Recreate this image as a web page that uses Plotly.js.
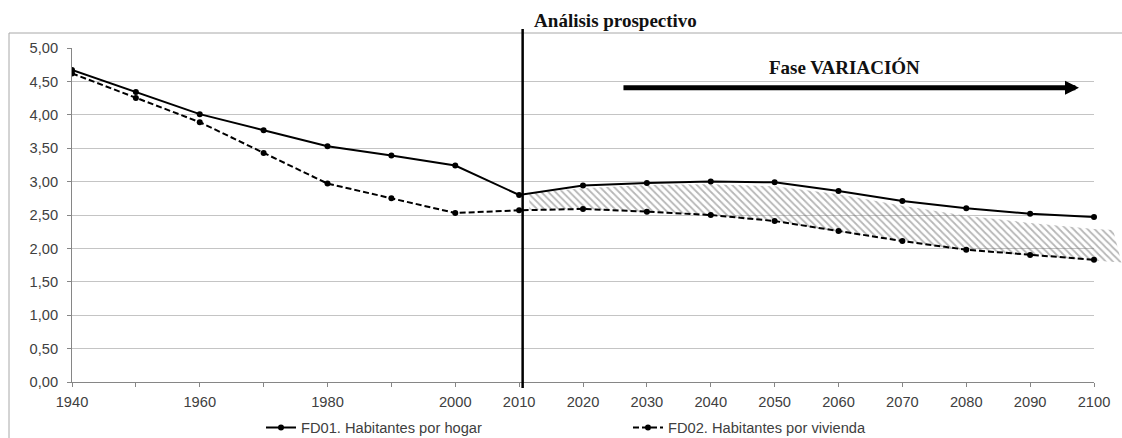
<!DOCTYPE html>
<html>
<head>
<meta charset="utf-8">
<script src="https://cdn.plot.ly/plotly-3.0.1.min.js"></script>
<style>html,body{margin:0;padding:0;background:#fff;}#chart{width:1122px;height:438px;}</style>
</head>
<body>
<div id="chart"></div>
<script>
// ---- data ----
const years = [1940, 1950, 1960, 1970, 1980, 1990, 2000, 2010, 2020, 2030, 2040, 2050, 2060, 2070, 2080, 2090, 2100];
const fd01 = [4.67, 4.34, 4.01, 3.77, 3.53, 3.39, 3.24, 2.80, 2.94, 2.98, 3.00, 2.99, 2.86, 2.71, 2.60, 2.52, 2.47];
const fd02 = [4.62, 4.25, 3.89, 3.43, 2.97, 2.75, 2.53, 2.57, 2.59, 2.55, 2.50, 2.41, 2.26, 2.11, 1.98, 1.90, 1.83];
const tickLabels = ['1940', '', '1960', '', '1980', '', '2000', '2010', '2020', '2030', '2040', '2050', '2060', '2070', '2080', '2090', '2100'];
const seriesNames = ['FD01. Habitantes por hogar', 'FD02. Habitantes por vivienda'];
// hatched variation band (polygon outline)
const bandYears = [2011.6, 2020, 2030, 2040, 2050, 2060, 2070, 2080, 2090, 2100, 2103.0, 2104.3, 2100, 2090, 2080, 2070, 2060, 2050, 2040, 2030, 2020, 2011.6];
const bandValues = [2.83, 2.90, 2.95, 2.96, 2.93, 2.81, 2.64, 2.49, 2.38, 2.29, 2.275, 1.79, 1.82, 1.89, 1.97, 2.10, 2.25, 2.40, 2.50, 2.55, 2.59, 2.58];
const dividerYear = 2010.55;
const titleText = 'Análisis prospectivo';
const phaseText = 'Fase VARIACIÓN';

// ---- geometry ----
const W = 1122, H = 438;
const mL = 72, mR = 0, mT = 48, mB = 56;
const plotW = W - mL - mR;           // 1050
const plotH = H - mT - mB;           // 334
const mainPx = 1022;                 // width of the 1940-2100 axis
const xMin = 1940, xMax = 2100;
const domainEnd = mainPx / plotW;
const x2Max = xMin + (xMax - xMin) * plotW / mainPx;
const px = v => (v - mL) / plotW;     // pixel -> paper x
const py = v => (H - mB - v) / plotH; // pixel -> paper y

const serif = 'Liberation Serif, Times New Roman, serif';
const sans = 'Liberation Sans, Arial, sans-serif';
const txtCol = '#404040';

const traces = [
  {x: [], y: [], xaxis: 'x', yaxis: 'y', showlegend: false, hoverinfo: 'skip', mode: 'lines'},
  {
    x: bandYears, y: bandValues, xaxis: 'x2', yaxis: 'y2',
    mode: 'lines', line: {width: 0, color: 'rgba(0,0,0,0)'},
    fill: 'toself', fillcolor: 'rgba(0,0,0,0)',
    fillpattern: {shape: '\\', fgcolor: '#6e6e6e', bgcolor: 'rgba(255,255,255,0)', size: 5, solidity: 0.35, fillmode: 'overlay'},
    showlegend: false, hoverinfo: 'skip'
  },
  {
    x: years, y: fd01, name: seriesNames[0], xaxis: 'x2', yaxis: 'y2',
    mode: 'lines+markers', line: {color: '#000', width: 2},
    marker: {color: '#000', size: 6, symbol: 'circle'},
    legend: 'legend'
  },
  {
    x: years, y: fd02, name: seriesNames[1], xaxis: 'x2', yaxis: 'y2',
    mode: 'lines+markers', line: {color: '#000', width: 2, dash: '6px,3px'},
    marker: {color: '#000', size: 6, symbol: 'circle'},
    legend: 'legend2'
  }
];

const legendCommon = {
  xanchor: 'left', yanchor: 'middle',
  y: py(428),
  bgcolor: 'rgba(0,0,0,0)', borderwidth: 0,
  font: {family: sans, size: 14.67, color: txtCol}
};

const layout = {
  width: W, height: H,
  margin: {l: mL, r: mR, t: mT, b: mB, pad: 0, autoexpand: false},
  paper_bgcolor: '#fff', plot_bgcolor: 'rgba(0,0,0,0)',
  separators: ',.',
  font: {family: sans, size: 14.67, color: txtCol},
  title: {
    text: titleText, x: 615.5 / W, xanchor: 'center', xref: 'container',
    y: 1 - 20 / H, yanchor: 'middle', yref: 'container',
    font: {family: serif, size: 19, color: '#111', weight: 'bold'}
  },
  xaxis: {
    domain: [0, domainEnd], anchor: 'y', range: [xMin, xMax],
    tickmode: 'array', tickvals: years, ticktext: tickLabels,
    showgrid: false, zeroline: false,
    showline: true, linecolor: '#868686', linewidth: 1,
    ticks: 'outside', ticklen: 4, tickcolor: '#868686', tickwidth: 1,
    ticklabelstandoff: 2,
    tickfont: {family: sans, size: 14.67, color: txtCol}
  },
  yaxis: {
    domain: [0, 1], anchor: 'x', range: [0, 5], dtick: 0.5, tick0: 0,
    tickformat: '.2f',
    showgrid: true, gridcolor: '#c4c4c4', gridwidth: 1, zeroline: false,
    showline: true, linecolor: '#868686', linewidth: 1,
    ticks: 'outside', ticklen: 4, tickcolor: '#868686',
    ticklabelstandoff: 6,
    tickfont: {family: sans, size: 14.67, color: txtCol}
  },
  xaxis2: {domain: [0, 1], anchor: 'y2', range: [xMin, x2Max], visible: false, fixedrange: true},
  yaxis2: {domain: [0, 1], anchor: 'x2', range: [0, 5], visible: false, fixedrange: true},
  legend: Object.assign({}, legendCommon, {x: px(261)}),
  legend2: Object.assign({}, legendCommon, {x: px(628)}),
  shapes: [
    {type: 'rect', xref: 'paper', yref: 'paper', x0: px(9), x1: px(1140), y0: py(460), y1: py(33),
     line: {color: '#a8a8a8', width: 1}, fillcolor: 'rgba(0,0,0,0)', layer: 'below'},
    {type: 'line', xref: 'x', yref: 'paper', x0: dividerYear, x1: dividerYear, y0: py(388), y1: py(29),
     line: {color: '#000', width: 2.5}, layer: 'above'}
  ],
  annotations: [
    {xref: 'x', yref: 'y', x: 2061.0, y: 4.708, text: phaseText, showarrow: false,
     xanchor: 'center', yanchor: 'middle',
     font: {family: serif, size: 19, color: '#111', weight: 'bold'}},
    {xref: 'x', yref: 'y', axref: 'x', ayref: 'y', x: 2097.65, y: 4.406, ax: 2026.1, ay: 4.406,
     text: '', showarrow: true, arrowhead: 2, arrowsize: 0.56, arrowwidth: 5, arrowcolor: '#000', standoff: 0}
  ]
};

Plotly.newPlot('chart', traces, layout, {displayModeBar: false, staticPlot: true});
</script>
</body>
</html>
